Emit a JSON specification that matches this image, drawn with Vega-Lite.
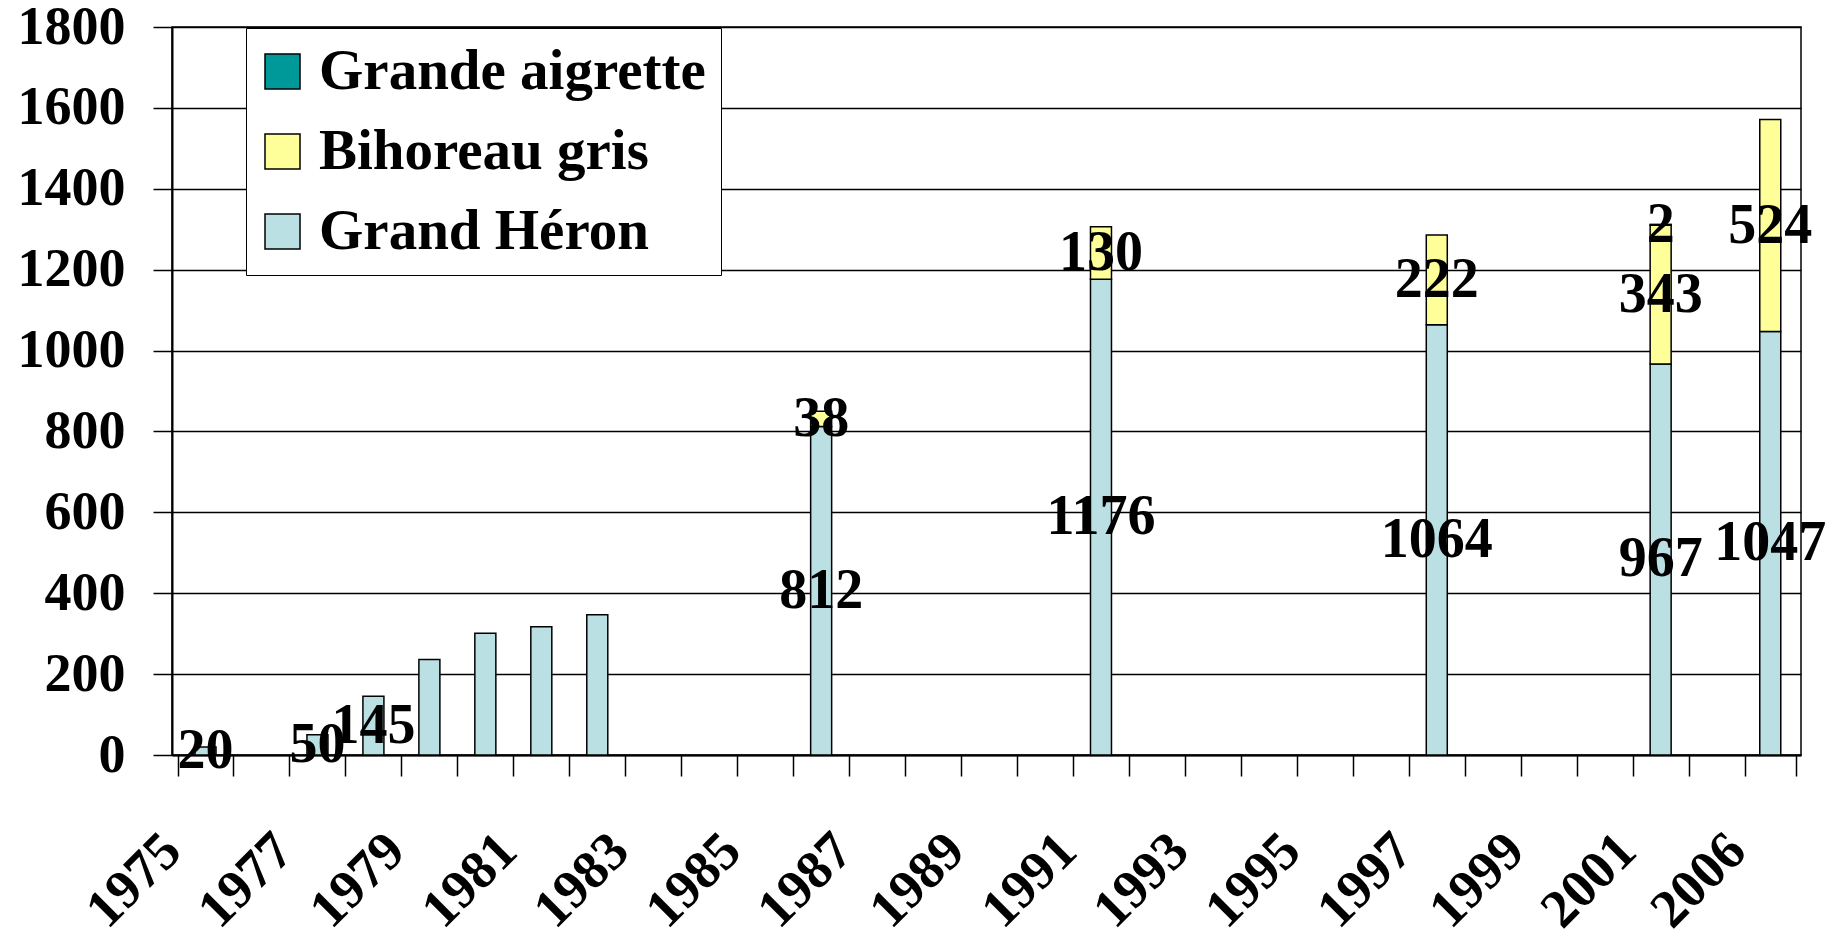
{
  "$schema": "https://vega.github.io/schema/vega-lite/v6.json",
  "width": 1629,
  "height": 728,
  "autosize": {"type": "none"},
  "padding": {"left": 172, "top": 27, "right": 42, "bottom": 183},
  "background": "white",
  "config": {
    "view": {"stroke": "black", "strokeWidth": 1.5},
    "font": "Liberation Serif"
  },
  "data": {
    "values": [
      {"year": 1975, "species": "Grand Héron", "count": 20},
      {"year": 1977, "species": "Grand Héron", "count": 50},
      {"year": 1978, "species": "Grand Héron", "count": 145},
      {"year": 1979, "species": "Grand Héron", "count": 236},
      {"year": 1980, "species": "Grand Héron", "count": 301},
      {"year": 1981, "species": "Grand Héron", "count": 317},
      {"year": 1982, "species": "Grand Héron", "count": 347},
      {"year": 1986, "species": "Grand Héron", "count": 812},
      {"year": 1986, "species": "Bihoreau gris", "count": 38},
      {"year": 1991, "species": "Grand Héron", "count": 1176},
      {"year": 1991, "species": "Bihoreau gris", "count": 130},
      {"year": 1997, "species": "Grand Héron", "count": 1064},
      {"year": 1997, "species": "Bihoreau gris", "count": 222},
      {"year": 2001, "species": "Grand Héron", "count": 967},
      {"year": 2001, "species": "Bihoreau gris", "count": 343},
      {"year": 2001, "species": "Grande aigrette", "count": 2},
      {"year": 2006, "species": "Grand Héron", "count": 1047},
      {"year": 2006, "species": "Bihoreau gris", "count": 524}
    ]
  },
  "encoding": {
    "x": {
      "field": "year",
      "type": "quantitative",
      "title": null,
      "scale": {
        "domain": [1974.5, 2002.5, 2005.5, 2006.5],
        "range": [0, 1572.6, 1572.6, 1629],
        "zero": false,
        "nice": false
      },
      "axis": {
        "values": [1974.5, 1975, 1975.5, 1976.5, 1977, 1977.5, 1978.5, 1979, 1979.5, 1980.5, 1981, 1981.5, 1982.5, 1983, 1983.5, 1984.5, 1985, 1985.5, 1986.5, 1987, 1987.5, 1988.5, 1989, 1989.5, 1990.5, 1991, 1991.5, 1992.5, 1993, 1993.5, 1994.5, 1995, 1995.5, 1996.5, 1997, 1997.5, 1998.5, 1999, 1999.5, 2000.5, 2001, 2001.5, 2002.5, 2006, 2006.5],
        "labelExpr": "datum.value % 1 === 0 ? '' + datum.value : ''",
        "grid": false,
        "ticks": true,
        "tickSize": 21,
        "tickColor": "black",
        "tickWidth": 1.5,
        "tickOpacity": {"condition": {"test": "datum.value % 1 === 0", "value": 0}, "value": 1},
        "domain": true,
        "domainColor": "black",
        "domainWidth": 2,
        "labelAngle": -45,
        "labelAlign": "right",
        "labelBaseline": "middle",
        "labelFont": "Liberation Serif",
        "labelFontWeight": "bold",
        "labelFontSize": 54,
        "labelColor": "black",
        "labelPadding": 66,
        "labelOverlap": false,
        "labelBound": false,
        "labelFlush": false,
        "labelLimit": 0,
        "labelOffset": -33.5
      }
    }
  },
  "layer": [
    {
      "mark": {"type": "bar", "orient": "vertical", "size": 21, "stroke": "black", "strokeWidth": 1.5, "opacity": 1},
      "encoding": {
        "y": {
          "field": "count",
          "type": "quantitative",
          "stack": "zero",
          "title": null,
          "scale": {"domain": [0, 1800], "nice": false},
          "axis": {
            "values": [0, 200, 400, 600, 800, 1000, 1200, 1400, 1600, 1800],
            "format": "d",
            "grid": true,
            "gridColor": "black",
            "gridWidth": 1.5,
            "gridOpacity": 1,
            "tickSize": 19,
            "tickColor": "black",
            "tickWidth": 1.5,
            "domainColor": "black",
            "domainWidth": 2,
            "labelFont": "Liberation Serif",
            "labelFontWeight": "bold",
            "labelFontSize": 54,
            "labelColor": "black",
            "labelPadding": 28
          }
        },
        "color": {
          "field": "species",
          "type": "nominal",
          "scale": {
            "domain": ["Grande aigrette", "Bihoreau gris", "Grand Héron"],
            "range": ["#009999", "#FFFF99", "#BBE0E3"]
          },
          "legend": {
            "title": null,
            "orient": "none",
            "legendX": 74,
            "legendY": 1,
            "fillColor": "white",
            "strokeColor": "black",
            "padding": 15,
            "symbolType": "square",
            "symbolSize": 1225,
            "symbolOffset": -7,
            "symbolStrokeColor": "black",
            "symbolStrokeWidth": 1.5,
            "symbolOpacity": 1,
            "labelFont": "Liberation Serif",
            "labelFontWeight": "bold",
            "labelFontSize": 57,
            "labelColor": "black",
            "labelOffset": 8,
            "labelLimit": 1000,
            "rowPadding": 22
          }
        },
        "order": {"field": "count", "type": "quantitative", "sort": "descending"}
      }
    },
    {
      "transform": [{"filter": {"not": {"field": "year", "range": [1979, 1982]}}}],
      "mark": {"type": "text", "font": "Liberation Serif", "fontWeight": "bold", "fontSize": 56, "color": "black", "align": "center", "baseline": "middle"},
      "encoding": {
        "y": {"field": "count", "type": "quantitative", "stack": "zero", "bandPosition": 0.5, "title": null},
        "detail": {"field": "species", "type": "nominal"},
        "order": {"field": "count", "type": "quantitative", "sort": "descending"},
        "text": {"field": "count", "type": "quantitative", "format": "d"}
      }
    }
  ]
}
